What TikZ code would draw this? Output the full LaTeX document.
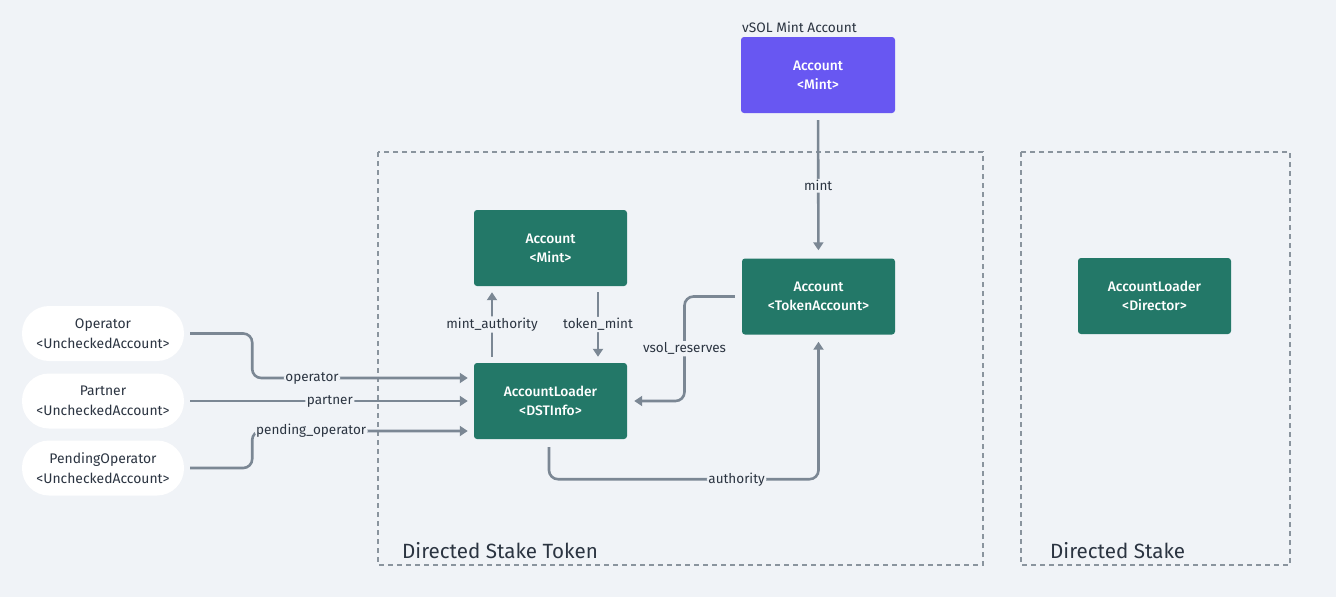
\documentclass[tikz,border=0pt]{standalone}
\usepackage{fontspec}
\setmainfont{Fira Sans}[BoldFont={Fira Sans Medium}]
\usetikzlibrary{arrows.meta,calc}
\definecolor{bg}{HTML}{F0F3F7}
\definecolor{acgreen}{HTML}{237868}
\definecolor{acpurple}{HTML}{6857F2}
\definecolor{wire}{HTML}{7B8794}
\definecolor{ink}{HTML}{2B3441}
\definecolor{frame}{HTML}{8A949E}
\begin{document}
\begin{tikzpicture}[x=1pt,y=-1pt,
  box/.style={fill=acgreen, rounded corners=3pt, minimum width=153pt, minimum height=76pt,
    text=white, align=center, inner sep=0pt, font=\bfseries\fontsize{13.8}{19}\selectfont},
  pbox/.style={box, fill=acpurple, minimum width=154pt},
  pill/.style={fill=white, rounded corners=27pt, minimum width=162pt, minimum height=55pt,
    text=ink, align=center, inner sep=0pt, font=\fontsize{13.9}{20}\selectfont},
  wire/.style={draw=wire, line width=2.6pt, rounded corners=9pt,
    -{Triangle[length=8pt,width=10pt]}},
  lbl/.style={fill=bg, text=ink, inner sep=1.5pt, font=\fontsize{13.5}{15}\selectfont},
  zone/.style={draw=frame, line width=1.2pt, dash pattern=on 5pt off 4pt},
  ztitle/.style={text=ink, anchor=base west, inner sep=0pt, font=\fontsize{20.6}{24}\selectfont}
]
\useasboundingbox[fill=bg] (0,0) rectangle (1336,597);

% zones
\draw[zone] (378,152) rectangle (983,565);
\draw[zone] (1021,152) rectangle (1290,565);
\node[ztitle] (zt1) at (402,558) {Directed Stake Token};
\node[ztitle] (zt2) at (1050,558) {Directed Stake};

% nodes
\node[pbox] (vmint) at (818,75) {Account\\<Mint>};
\node[text=ink, anchor=base west, inner sep=0pt, font=\fontsize{13.7}{15}\selectfont] (vtitle) at (742,32) {vSOL Mint Account};
\node[box] (mint) at (550.5,248) {Account\\<Mint>};
\node[box] (tok) at (818.5,296.5) {Account\\<TokenAccount>};
\node[box] (dst) at (550.5,401) {AccountLoader\\<DSTInfo>};
\node[box] (dir) at (1154.5,296) {AccountLoader\\<Director>};
\node[pill] (op) at (103,333.5) {Operator\\<UncheckedAccount>};
\node[pill] (pa) at (103,401) {Partner\\<UncheckedAccount>};
\node[pill] (pe) at (103,468) {PendingOperator\\<UncheckedAccount>};

% connectors
\draw[wire, shorten <=7pt, shorten >=8pt] (vmint) -- node[lbl]{mint} (tok);
\draw[wire, shorten <=6pt, shorten >=6pt] ([xshift=-58.5pt]dst.north) -- node[lbl]{mint\_authority} ([xshift=-58.5pt]mint.south);
\draw[wire, shorten <=6pt, shorten >=6pt] ([xshift=47.5pt]mint.south) -- node[lbl]{token\_mint} ([xshift=47.5pt]dst.north);
\draw[wire, shorten <=7pt, shorten >=7pt] (tok.west) -| ($(dst.east)!0.5!(tok.west)$) node[lbl]{vsol\_reserves} |- (dst.east);
\draw[wire, shorten <=8pt, shorten >=7pt] ([xshift=-1.5pt]dst.south) -- ++(0,40) -| node[lbl, pos=0.348]{authority} (tok.south);
\draw[wire, shorten <=6pt, shorten >=6pt] (op.east) -- ++(68,0) |- node[lbl, pos=0.635]{operator} ([yshift=23pt]dst.west);
\draw[wire, shorten <=6pt, shorten >=6pt] (pa.east) -- node[lbl, pos=0.503]{partner} (dst.west);
\draw[wire, shorten <=6pt, shorten >=6pt] (pe.east) -- ++(68,0) |- node[lbl, pos=0.633]{pending\_operator} ([yshift=-30pt]dst.west);
\end{tikzpicture}
\end{document}
